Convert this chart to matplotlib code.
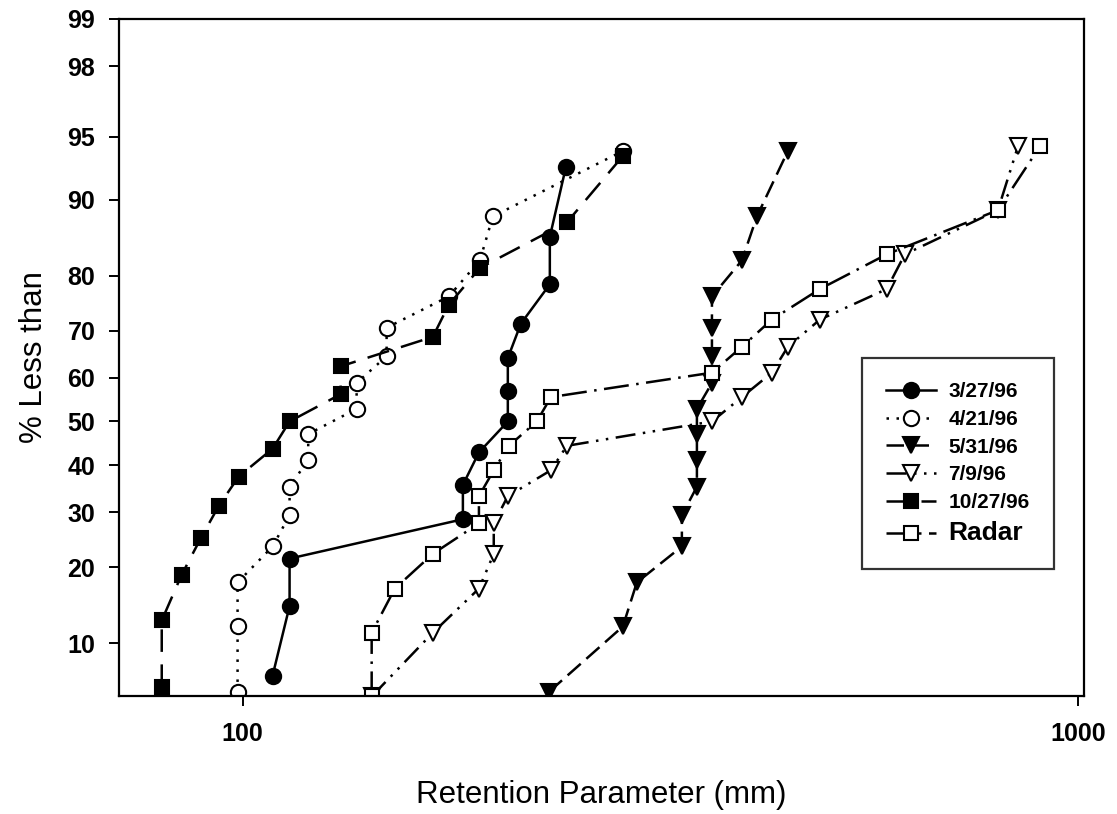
import matplotlib
matplotlib.use('Agg')
import matplotlib.pyplot as plt
import numpy as np
from statistics import NormalDist
from matplotlib.ticker import FixedLocator, FixedFormatter, NullLocator

# -------------------------------
# data
# -------------------------------
x_0327 = [108.6, 113.8, 113.8, 183.5, 183.5, 191.8, 207.7, 207.7, 207.7, 215.3, 233.2, 233.2, 243.7]
p_0327 = [7.1, 14.3, 21.4, 28.6, 35.7, 42.9, 50.0, 57.1, 64.3, 71.4, 78.6, 85.7, 92.9]

x_0421 = [98.6, 98.6, 98.6, 108.6, 113.8, 113.8, 119.8, 119.8, 136.9, 136.9, 148.7, 148.7, 176.5, 192.3, 199.3, 285.2]
p_0421 = [5.9, 11.8, 17.6, 23.5, 29.4, 35.3, 41.2, 47.1, 52.9, 58.8, 64.7, 70.6, 76.5, 82.4, 88.2, 94.1]

x_0531 = [232.6, 285.2, 296.4, 335.6, 335.6, 349.8, 349.8, 349.8, 349.8, 364.6, 364.6, 364.6, 364.6, 396.0, 412.7, 449.5]
p_0531 = [5.9, 11.8, 17.6, 23.5, 29.4, 35.3, 41.2, 47.1, 52.9, 58.8, 64.7, 70.6, 76.5, 82.4, 88.2, 94.1]

x_0709 = [142.7, 168.9, 191.8, 199.8, 199.8, 207.7, 233.9, 244.4, 364.6, 396.0, 430.1, 449.5, 491.0, 590.4, 620.5, 802.0, 847.5]
p_0709 = [5.6, 11.1, 16.7, 22.2, 27.8, 33.3, 38.9, 44.4, 50.0, 55.6, 61.1, 66.7, 72.2, 77.8, 83.3, 88.9, 94.4]

x_1027 = [80.0, 80.0, 84.5, 89.1, 93.6, 98.9, 108.6, 113.8, 131.0, 131.0, 168.9, 176.5, 192.3, 244.4, 285.2]
p_1027 = [6.25, 12.5, 18.75, 25.0, 31.25, 37.5, 43.75, 50.0, 56.25, 62.5, 68.75, 75.0, 81.25, 87.5, 93.75]

x_radar = [142.7, 142.7, 152.1, 168.9, 191.8, 191.8, 199.8, 208.3, 225.0, 233.9, 364.6, 396.0, 430.1, 491.0, 590.4, 802.0, 900.4]
p_radar = [5.6, 11.1, 16.7, 22.2, 27.8, 33.3, 38.9, 44.4, 50.0, 55.6, 61.1, 66.7, 72.2, 77.8, 83.3, 88.9, 94.4]

y_ticks = [10, 20, 30, 40, 50, 60, 70, 80, 90, 95, 98, 99]
x_ticks = [100, 1000]

x_label = "Retention Parameter (mm)"
y_label = "% Less than"

# -------------------------------
# normal probability scale
# -------------------------------
_nd = NormalDist()


def prob_fwd(p):
    p = np.clip(np.asarray(p, dtype=float), 1e-6, 100 - 1e-6)
    return np.array([_nd.inv_cdf(v / 100.0) for v in p.ravel()]).reshape(p.shape)


def prob_inv(z):
    z = np.asarray(z, dtype=float)
    return np.array([_nd.cdf(v) * 100.0 for v in z.ravel()]).reshape(z.shape)


plt.rcParams.update({
    "font.family": ["Liberation Sans", "DejaVu Sans"],
    "axes.linewidth": 1.6,
    "xtick.labelsize": 18,
    "ytick.labelsize": 18,
})

fig = plt.figure(figsize=(11.17, 8.14), dpi=100)
ax = fig.add_axes([0.1065, 0.145, 0.8640, 0.8317])

ax.set_xscale("log")
ax.set_yscale("function", functions=(prob_fwd, prob_inv))

base = {"color": "black", "lw": 1.8, "markersize": 11, "markeredgewidth": 1.5,
        "markeredgecolor": "black"}

series = [
    (x_0327, p_0327, "3/27/96", "o", "black", "-"),
    (x_0421, p_0421, "4/21/96", "o", "white", (0, (1, 3))),
    (x_0531, p_0531, "5/31/96", "v", "black", (0, (7, 3))),
    (x_0709, p_0709, "7/9/96", "v", "white", (0, (8, 3, 1, 3, 1, 3))),
    (x_1027, p_1027, "10/27/96", "s", "black", (0, (9, 5))),
    (x_radar, p_radar, "Radar", "s", "white", (0, (10, 3, 1, 3))),
]

for xs, ps, lab, mk, fc, ls in series:
    kw = base.copy()
    if mk == "s":
        kw["markersize"] = 10.5
    ax.plot(xs, ps, marker=mk, markerfacecolor=fc, linestyle=ls, label=lab, **kw)

ax.set_xlim(71.1, 1017)
ax.set_ylim(5.63, 99)

ax.xaxis.set_major_locator(FixedLocator(x_ticks))
ax.xaxis.set_major_formatter(FixedFormatter([str(v) for v in x_ticks]))
ax.xaxis.set_minor_locator(NullLocator())
ax.yaxis.set_major_locator(FixedLocator(y_ticks))
ax.yaxis.set_major_formatter(FixedFormatter([str(v) for v in y_ticks]))
ax.yaxis.set_minor_locator(NullLocator())

ax.tick_params(axis="both", direction="out", length=7, width=1.4,
               top=False, right=False)
ax.tick_params(axis="y", pad=10)
ax.tick_params(axis="x", pad=12)

ax.set_xlabel(x_label, fontsize=22.5, labelpad=24)
ax.set_ylabel(y_label, fontsize=22.5, labelpad=13)

leg = ax.legend(loc="upper left", bbox_to_anchor=(0.77, 0.499),
                prop={"weight": "bold", "size": 15},
                frameon=True, fancybox=False, edgecolor="black",
                handlelength=2.4, handletextpad=0.6, labelspacing=0.42,
                borderpad=1.15, borderaxespad=0.0)
leg.get_frame().set_linewidth(1.6)
for t in leg.get_texts():
    if t.get_text() == "Radar":
        t.set_fontsize(19)

plt.setp(ax.get_xticklabels() + ax.get_yticklabels(), fontsize=18, fontweight="bold")

fig.savefig("out.png", dpi=100)
